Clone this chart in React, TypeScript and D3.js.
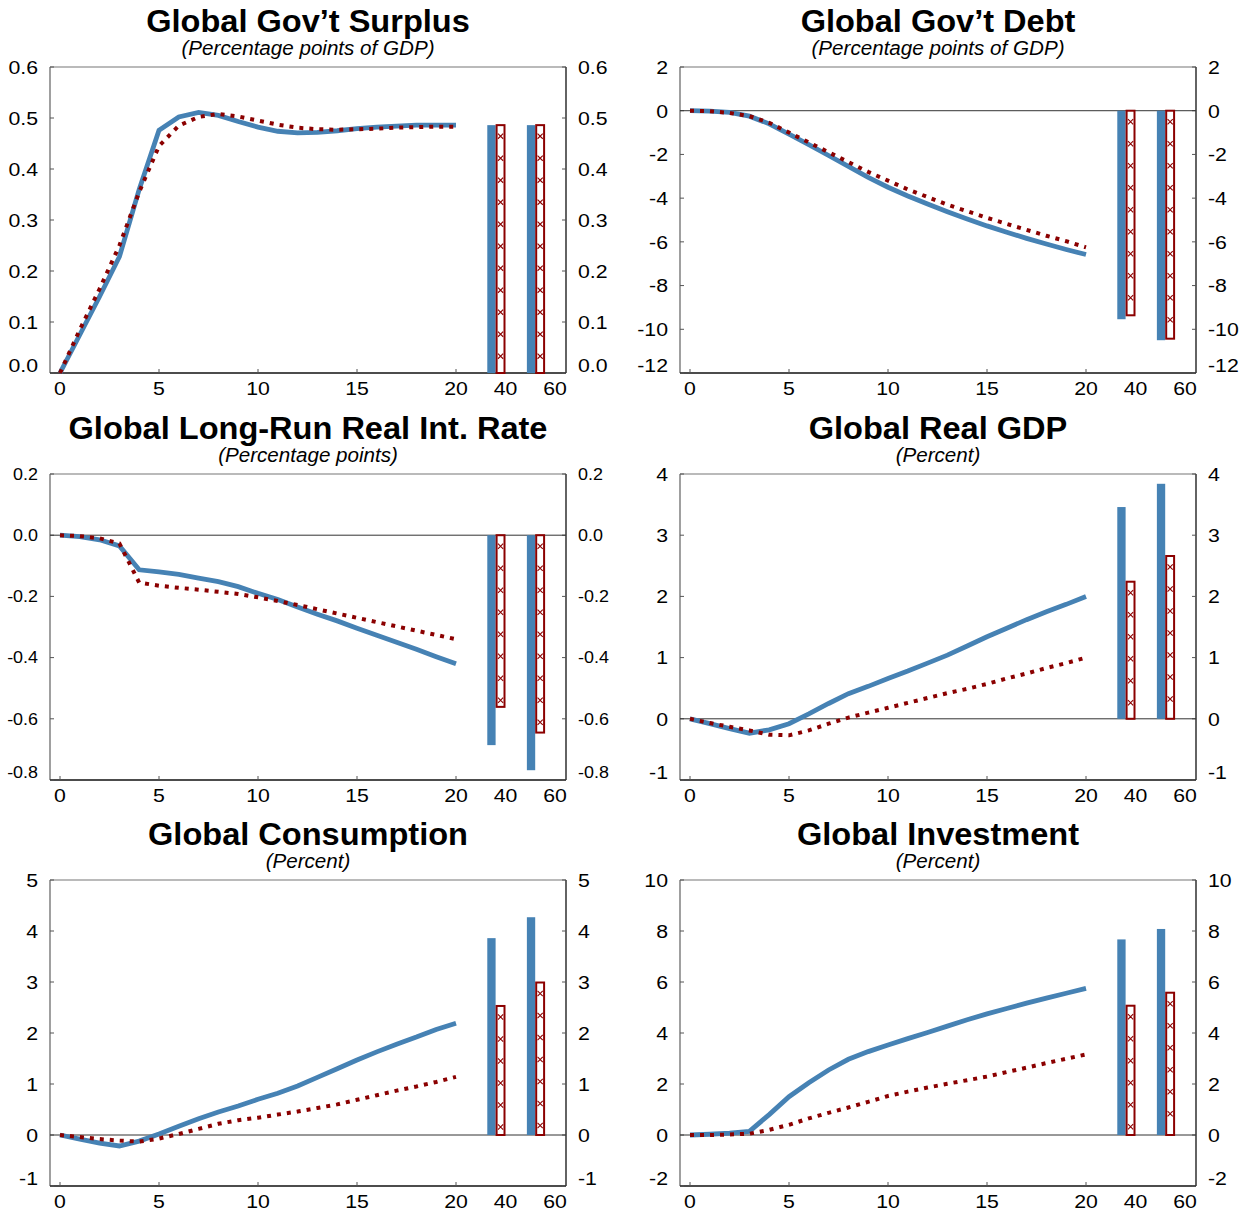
import React, { useEffect, useRef } from "react";
import * as d3 from "d3";

// horizon in years, plus the two long-run bar groups
const years = [0, 1, 2, 3, 4, 5, 6, 7, 8, 9, 10, 11, 12, 13, 14, 15, 16, 17, 18, 19, 20];
const xTicks = [0, 5, 10, 15, 20];
const barGroups = ["40", "60"];
const barPos = [22, 24];
const barLabelPos = [22.5, 25];

const surplusBase = [0, 0.075, 0.15, 0.228, 0.36, 0.476, 0.502, 0.511, 0.505, 0.493, 0.482, 0.474, 0.471, 0.472, 0.475, 0.479, 0.482, 0.484, 0.486, 0.486, 0.486];
const surplusAlt = [0, 0.085, 0.165, 0.25, 0.355, 0.445, 0.485, 0.502, 0.508, 0.503, 0.495, 0.487, 0.481, 0.478, 0.477, 0.478, 0.479, 0.481, 0.482, 0.483, 0.483];
const surplusBarsBase = [0.486, 0.486];
const surplusBarsAlt = [0.486, 0.486];

const debtBase = [0, -0.02, -0.08, -0.25, -0.6, -1.07, -1.55, -2.05, -2.55, -3.05, -3.5, -3.9, -4.27, -4.62, -4.95, -5.27, -5.56, -5.84, -6.1, -6.35, -6.58];
const debtAlt = [0, -0.02, -0.1, -0.25, -0.55, -1.0, -1.45, -1.9, -2.35, -2.8, -3.2, -3.6, -3.95, -4.3, -4.6, -4.9, -5.18, -5.45, -5.72, -5.97, -6.25];
const debtBarsBase = [-9.54, -10.5];
const debtBarsAlt = [-9.36, -10.43];

const rateBase = [0, -0.005, -0.015, -0.035, -0.113, -0.12, -0.128, -0.14, -0.152, -0.168, -0.19, -0.21, -0.235, -0.258, -0.28, -0.304, -0.327, -0.35, -0.373, -0.397, -0.42];
const rateAlt = [0, -0.003, -0.01, -0.027, -0.155, -0.165, -0.172, -0.178, -0.185, -0.192, -0.203, -0.215, -0.228, -0.242, -0.256, -0.27, -0.284, -0.298, -0.312, -0.326, -0.34];
const rateBarsBase = [-0.686, -0.768];
const rateBarsAlt = [-0.561, -0.645];

const gdpBase = [0, -0.08, -0.16, -0.235, -0.18, -0.08, 0.08, 0.25, 0.41, 0.53, 0.66, 0.78, 0.91, 1.04, 1.19, 1.34, 1.48, 1.62, 1.75, 1.87, 2.0];
const gdpAlt = [0, -0.07, -0.13, -0.19, -0.26, -0.27, -0.19, -0.08, 0.02, 0.1, 0.18, 0.26, 0.34, 0.42, 0.49, 0.57, 0.66, 0.74, 0.83, 0.91, 1.0];
const gdpBarsBase = [3.46, 3.84];
const gdpBarsAlt = [2.24, 2.66];

const consBase = [0, -0.08, -0.16, -0.215, -0.12, 0.02, 0.17, 0.32, 0.45, 0.57, 0.7, 0.82, 0.96, 1.13, 1.3, 1.47, 1.63, 1.78, 1.92, 2.07, 2.19];
const consAlt = [0, -0.04, -0.08, -0.11, -0.13, -0.07, 0.02, 0.12, 0.22, 0.29, 0.34, 0.4, 0.46, 0.53, 0.6, 0.69, 0.78, 0.87, 0.95, 1.04, 1.14];
const consBarsBase = [3.86, 4.27];
const consBarsAlt = [2.53, 2.99];

const invBase = [0, 0.03, 0.07, 0.14, 0.8, 1.5, 2.05, 2.55, 2.97, 3.27, 3.53, 3.78, 4.02, 4.27, 4.52, 4.75, 4.96, 5.17, 5.37, 5.56, 5.75];
const invAlt = [0, 0.0, 0.02, 0.05, 0.2, 0.4, 0.65, 0.87, 1.08, 1.3, 1.53, 1.7, 1.86, 2.01, 2.15, 2.29, 2.47, 2.64, 2.82, 2.99, 3.16];
const invBarsBase = [7.67, 8.08];
const invBarsAlt = [5.07, 5.58];

const locale = d3.formatLocale({ decimal: ".", thousands: ",", grouping: [3], currency: ["", ""], minus: "-" });

const panels = [
  { title: "Global Gov\u2019t Surplus", sub: "(Percentage points of GDP)", domain: [0, 0.6], ticks: [0, 0.1, 0.2, 0.3, 0.4, 0.5, 0.6], fmt: ".1f", base: surplusBase, alt: surplusAlt, barsBase: surplusBarsBase, barsAlt: surplusBarsAlt, small: false },
  { title: "Global Gov\u2019t Debt", sub: "(Percentage points of GDP)", domain: [-12, 2], ticks: [-12, -10, -8, -6, -4, -2, 0, 2], fmt: "d", base: debtBase, alt: debtAlt, barsBase: debtBarsBase, barsAlt: debtBarsAlt, small: false },
  { title: "Global Long-Run Real Int. Rate", sub: "(Percentage points)", domain: [-0.8, 0.2], ticks: [-0.8, -0.6, -0.4, -0.2, 0, 0.2], fmt: ".1f", base: rateBase, alt: rateAlt, barsBase: rateBarsBase, barsAlt: rateBarsAlt, small: true },
  { title: "Global Real GDP", sub: "(Percent)", domain: [-1, 4], ticks: [-1, 0, 1, 2, 3, 4], fmt: "d", base: gdpBase, alt: gdpAlt, barsBase: gdpBarsBase, barsAlt: gdpBarsAlt, small: false },
  { title: "Global Consumption", sub: "(Percent)", domain: [-1, 5], ticks: [-1, 0, 1, 2, 3, 4, 5], fmt: "d", base: consBase, alt: consAlt, barsBase: consBarsBase, barsAlt: consBarsAlt, small: false },
  { title: "Global Investment", sub: "(Percent)", domain: [-2, 10], ticks: [-2, 0, 2, 4, 6, 8, 10], fmt: "d", base: invBase, alt: invAlt, barsBase: invBarsBase, barsAlt: invBarsAlt, small: false },
];

const colLeft = [50, 680];
const rowTop = [67, 474, 880];
const W = 516;
const H = 306;
const BLUE = "#4682b4";
const RED = "#8b0000";
const FONT = "'Liberation Sans', Arial, Helvetica, sans-serif";

const stretched = (g, x, y, sx, txt) =>
  g.append("text").attr("transform", `translate(${x},${y}) scale(${sx},1)`).text(txt);

const Panel = ({ cfg, left, top }) => {
  const ref = useRef(null);

  useEffect(() => {
    const g = d3.select(ref.current);
    g.selectAll("*").remove();
    const right = left + W;
    const bottom = top + H;
    const x = d3.scaleLinear().domain([0, 20]).range([left + 10, left + 406]);
    const y = d3.scaleLinear().domain(cfg.domain).range([bottom, top]);
    const fmt = locale.format(cfg.fmt);

    // titles
    stretched(g, left + W / 2, top - 35, 1.05, cfg.title)
      .attr("text-anchor", "middle")
      .style("font", `bold 31px ${FONT}`);
    stretched(g, left + W / 2, top - 12, 1.03, cfg.sub)
      .attr("text-anchor", "middle")
      .style("font", `italic 20px ${FONT}`);

    // frame
    g.append("line").attr("x1", left).attr("x2", right).attr("y1", top).attr("y2", top).attr("stroke", "#777").attr("stroke-width", 1.2);
    g.append("line").attr("x1", left).attr("x2", left).attr("y1", top).attr("y2", bottom).attr("stroke", "#777").attr("stroke-width", 1.4);
    g.append("line").attr("x1", right).attr("x2", right).attr("y1", top).attr("y2", bottom).attr("stroke", "#222").attr("stroke-width", 1.4);
    g.append("line").attr("x1", left).attr("x2", right).attr("y1", bottom).attr("y2", bottom).attr("stroke", "#111").attr("stroke-width", 1.5);

    // y ticks and labels on both sides
    const fs = cfg.small ? 16 : 19;
    cfg.ticks.forEach((t, i) => {
      const ty = y(t);
      g.append("line").attr("x1", left).attr("x2", left + 4).attr("y1", ty).attr("y2", ty).attr("stroke", "#555");
      g.append("line").attr("x1", right - 4).attr("x2", right).attr("y1", ty).attr("y2", ty).attr("stroke", "#555");
      const ly = (i === 0 ? ty - 8 : ty) + fs * 0.36;
      stretched(g, left - 12, ly, 1.12, fmt(t)).attr("text-anchor", "end").style("font", `${fs}px ${FONT}`);
      stretched(g, right + 12, ly, 1.12, fmt(t)).attr("text-anchor", "start").style("font", `${fs}px ${FONT}`);
    });

    // x ticks and labels
    xTicks.forEach(t => {
      g.append("line").attr("x1", x(t)).attr("x2", x(t)).attr("y1", bottom).attr("y2", bottom - 4).attr("stroke", "#555");
      stretched(g, x(t), bottom + 22, 1.12, String(t)).attr("text-anchor", "middle").style("font", `19px ${FONT}`);
    });
    barGroups.forEach((lab, i) => {
      stretched(g, x(barLabelPos[i]), bottom + 22, 1.12, lab).attr("text-anchor", "middle").style("font", `19px ${FONT}`);
    });

    // zero line
    if (cfg.domain[0] < 0) {
      g.append("line").attr("x1", left).attr("x2", right).attr("y1", y(0)).attr("y2", y(0)).attr("stroke", "#333").attr("stroke-width", 1);
    }

    // lines
    const line = d3.line().x((d, i) => x(years[i])).y(d => y(d));
    g.append("path").attr("d", line(cfg.base)).attr("fill", "none").attr("stroke", BLUE).attr("stroke-width", 4.8);
    g.append("path").attr("d", line(cfg.alt)).attr("fill", "none").attr("stroke", RED).attr("stroke-width", 4).attr("stroke-dasharray", "4 6");

    // long-run bars
    barPos.forEach((p, i) => {
      const vb = cfg.barsBase[i];
      const va = cfg.barsAlt[i];
      g.append("rect")
        .attr("x", x(p - 0.42))
        .attr("width", x(p) - x(p - 0.42))
        .attr("y", Math.min(y(vb), y(0)))
        .attr("height", Math.abs(y(vb) - y(0)))
        .attr("fill", BLUE);
      const ax0 = x(p) + 1;
      const aw = x(p + 0.5) - x(p) - 2;
      const ay0 = Math.min(y(va), y(0));
      const ay1 = Math.max(y(va), y(0));
      g.append("rect")
        .attr("x", ax0)
        .attr("width", aw)
        .attr("y", ay0)
        .attr("height", ay1 - ay0)
        .attr("fill", "white")
        .attr("stroke", RED)
        .attr("stroke-width", 2);
      const cx = ax0 + aw / 2;
      for (let cy = ay0 + 11; cy <= ay1 - 6; cy += 22) {
        g.append("path")
          .attr("d", `M${cx - 2.6},${cy - 2.6}L${cx + 2.6},${cy + 2.6}M${cx + 2.6},${cy - 2.6}L${cx - 2.6},${cy + 2.6}`)
          .attr("stroke", RED)
          .attr("stroke-width", 1.1);
      }
    });
  }, [cfg, left, top]);

  return <g ref={ref} />;
};

const App = () => (
  <svg
    width={1256}
    height={1214}
    style={{ position: "absolute", left: 0, top: 0, background: "white" }}
  >
    <rect width={1256} height={1214} fill="white" />
    {panels.map((p, i) => (
      <Panel key={p.title} cfg={p} left={colLeft[i % 2]} top={rowTop[Math.floor(i / 2)]} />
    ))}
  </svg>
);

export default App;
